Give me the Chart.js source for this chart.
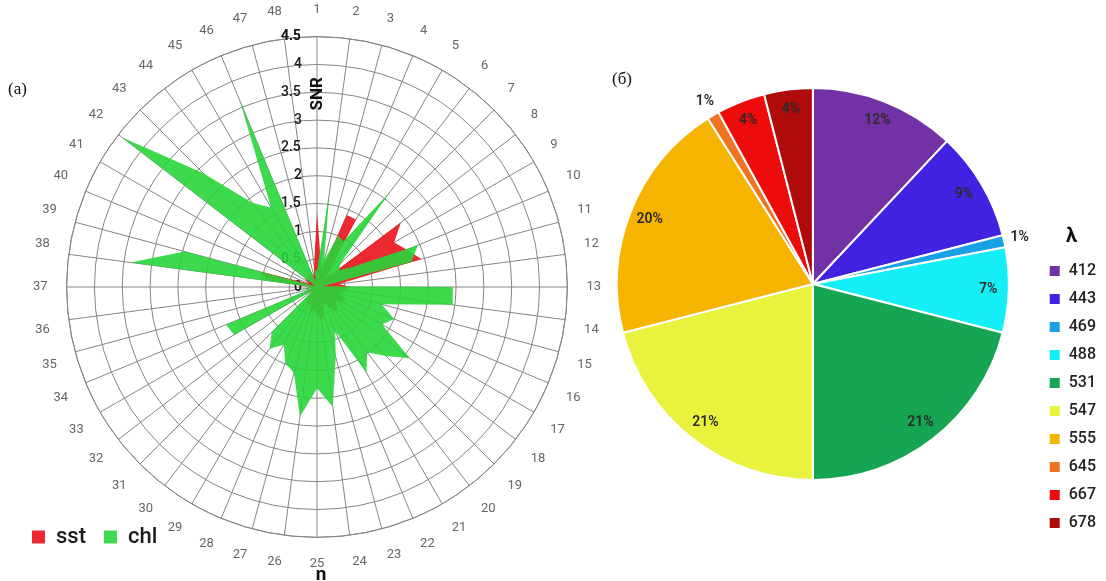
<!DOCTYPE html>
<html>
<head>
<meta charset="utf-8">
<script src="https://cdn.jsdelivr.net/npm/chart.js@4.4.1/dist/chart.umd.min.js"></script>
<style>
  html, body { margin: 0; padding: 0; background: #ffffff; width: 1106px; height: 581px; overflow: hidden; }
  #radar { position: absolute; left: 0; top: 0; }
  #pie { position: absolute; left: 560px; top: 0; }
</style>
</head>
<body>
<canvas id="radar" width="634" height="581"></canvas>
<canvas id="pie" width="546" height="581"></canvas>
<script>
// ---------- data: left panel (radar) ----------
const spokeLabels = ['1','2','3','4','5','6','7','8','9','10','11','12','13','14','15','16',
  '17','18','19','20','21','22','23','24','25','26','27','28','29','30','31','32',
  '33','34','35','36','37','38','39','40','41','42','43','44','45','46','47','48'];
const sstValues = [1.35, 0.5, 0.3, 1.4, 1.4, 0.4, 0.2, 1.9, 1.6, 1.75, 1.94, 0.4,
  0.6, 0.5, 0.4, 0.5, 0.6, 0.4, 0.5, 0.6, 0.4, 0.3, 0.5, 0.6,
  0.5, 0.4, 0.5, 0.3, 0.4, 0.3, 0.2, 0.1, 0.3, 0.2, 0.05, 0.2,
  0.1, 0.9, 1.05, 0.15, 0.2, 0.3, 0.2, 0.3, 0.2, 0.3, 0.2, 0.4];
const chlValues = [0.3, 1.7, 0.5, 1.0, 0.95, 2.15, 0.6, 0.5, 0.7, 1.96, 1.76, 0.1,
  2.44, 2.46, 1.2, 1.5, 1.35, 2.1, 1.75, 1.48, 1.78, 0.85, 1.3, 2.17,
  1.82, 2.35, 1.6, 1.48, 1.2, 1.4, 1.15, 0.1, 1.72, 1.77, 0.1, 0.3,
  0.1, 3.38, 2.47, 0.05, 0.05, 4.42, 2.9, 1.9, 1.65, 3.62, 0.1, 0.3];
const snrMax = 4.5;
const snrStep = 0.5;

// ---------- data: right panel (pie) ----------
const wavelengths = ['412','443','469','488','531','547','555','645','667','678'];
const shares = [12, 9, 1, 7, 21, 21, 20, 1, 4, 4];
const waveColors = ['#7232a6','#4122e0','#1aa0e6','#14eef6','#16a653','#e9f23c','#f6b300','#f07322','#ee0b0b','#b00b0b'];

const FAMILY = "Roboto, 'DejaVu Sans', sans-serif";
Chart.defaults.font.family = FAMILY;

// tick label helper: right-align tick labels left of the vertical axis
const TICK_FONT = { family: FAMILY, size: 14, weight: '500' };
const mctx = document.createElement('canvas').getContext('2d');
mctx.font = '500 14px ' + FAMILY;
function fmtTick(v) {
  if (Math.abs(v) < 1e-6) return '0';
  return String(Math.round(v * 10) / 10);
}
function padTick(s) {
  const gap = 16;
  const w = mctx.measureText(s).width;
  const sp = mctx.measureText(' ').width;
  const n = Math.max(0, Math.round((w + 2 * gap) / sp));
  return s + ' '.repeat(n);
}

const legendShift = {
  id: 'legendShift',
  afterLayout(chart) {
    const L = chart.legend;
    if (!L) return;
    const h = L.height, w = L.width;
    L.top = 508; L.bottom = 508 + h;
    L.left = 14; L.right = 14 + w;
  }
};

const radarTexts = {
  id: 'radarTexts',
  afterDraw(chart) {
    const s = chart.scales.r;
    const ctx = chart.ctx;
    ctx.save();
    ctx.fillStyle = '#111';
    ctx.textAlign = 'center';
    ctx.textBaseline = 'middle';
    // axis title SNR (rotated)
    ctx.save();
    ctx.translate(s.xCenter + 1, s.yCenter - s.getDistanceFromCenterForValue(3.47));
    ctx.rotate(-Math.PI / 2);
    ctx.font = 'bold 17px ' + FAMILY;
    ctx.fillText('SNR', 0, 0);
    ctx.restore();
    // axis title n
    ctx.font = 'bold 19px ' + FAMILY;
    ctx.fillText('n', s.xCenter + 4, s.yCenter + s.drawingArea + 38);
    // panel letter
    ctx.font = "17px 'Liberation Serif', 'DejaVu Serif', serif";
    ctx.textAlign = 'left';
    ctx.fillText('(а)', 8, 90);
    ctx.restore();
  }
};

new Chart(document.getElementById('radar'), {
  type: 'radar',
  data: {
    labels: spokeLabels,
    datasets: [
      { label: 'sst', data: sstValues, backgroundColor: 'rgba(236,28,36,0.94)', borderColor: 'rgba(0,0,0,0)',
        borderWidth: 0, pointRadius: 0, pointHoverRadius: 0, fill: 'origin', order: 1 },
      { label: 'chl', data: chlValues, backgroundColor: 'rgba(40,214,58,0.9)', borderColor: 'rgba(0,0,0,0)',
        borderWidth: 0, pointRadius: 0, pointHoverRadius: 0, fill: 'origin', order: 0 }
    ]
  },
  options: {
    responsive: false,
    animation: false,
    layout: { padding: { top: 2, bottom: -42, left: 0, right: 0 } },
    elements: { line: { tension: 0 } },
    scales: {
      r: {
        min: -0.001,
        max: snrMax,
        bounds: 'data',
        beginAtZero: false,
        grid: { circular: true, color: '#858585', lineWidth: 1 },
        angleLines: { color: '#858585', lineWidth: 1 },
        ticks: {
          stepSize: snrStep,
          includeBounds: false,
          showLabelBackdrop: false,
          color: '#1a1a1a',
          font: TICK_FONT,
          callback: (v) => padTick(fmtTick(v))
        },
        pointLabels: { color: '#666', font: { size: 13 }, padding: 10 }
      }
    },
    plugins: {
      legend: {
        position: 'bottom',
        align: 'start',
        labels: {
          boxWidth: 13, boxHeight: 13, padding: 18, color: '#1a1a1a',
          font: { size: 22, weight: '500' },
          sort: (a, b) => a.datasetIndex - b.datasetIndex
        }
      },
      tooltip: { enabled: false }
    }
  },
  plugins: [legendShift, radarTexts]
});

const pieLabels = {
  id: 'pieLabels',
  afterDatasetsDraw(chart) {
    const ctx = chart.ctx;
    const meta = chart.getDatasetMeta(0);
    const vals = chart.data.datasets[0].data;
    ctx.save();
    ctx.font = '600 14px ' + FAMILY;
    ctx.fillStyle = '#2a2a2a';
    ctx.textAlign = 'center';
    ctx.textBaseline = 'middle';
    meta.data.forEach((arc, i) => {
      const p = arc.getProps(['x', 'y', 'startAngle', 'endAngle', 'outerRadius'], true);
      const mid = (p.startAngle + p.endAngle) / 2;
      const v = vals[i];
      const r = v < 2 ? p.outerRadius + 16 : p.outerRadius * 0.895;
      ctx.fillText(v + '%', p.x + r * Math.cos(mid), p.y + r * Math.sin(mid));
    });
    ctx.fillStyle = '#111';
    ctx.textAlign = 'left';
    ctx.font = "17px 'Liberation Serif', 'DejaVu Serif', serif";
    ctx.fillText('(б)', 52, 80);
    ctx.restore();
  }
};

new Chart(document.getElementById('pie'), {
  type: 'pie',
  data: {
    labels: wavelengths,
    datasets: [{ data: shares, backgroundColor: waveColors, borderColor: '#ffffff', borderWidth: 2 }]
  },
  options: {
    responsive: false,
    animation: false,
    radius: 196,
    layout: { padding: { left: 29, right: 0, top: 25, bottom: 38 } },
    plugins: {
      legend: {
        position: 'right',
        align: 'end',
        title: { display: true, text: 'λ', color: '#111', font: { size: 20, weight: 'bold' } },
        labels: { boxWidth: 12, boxHeight: 12, padding: 12, color: '#222', font: { size: 16, weight: '500' } }
      },
      tooltip: { enabled: false }
    }
  },
  plugins: [pieLabels]
});
</script>
</body>
</html>
